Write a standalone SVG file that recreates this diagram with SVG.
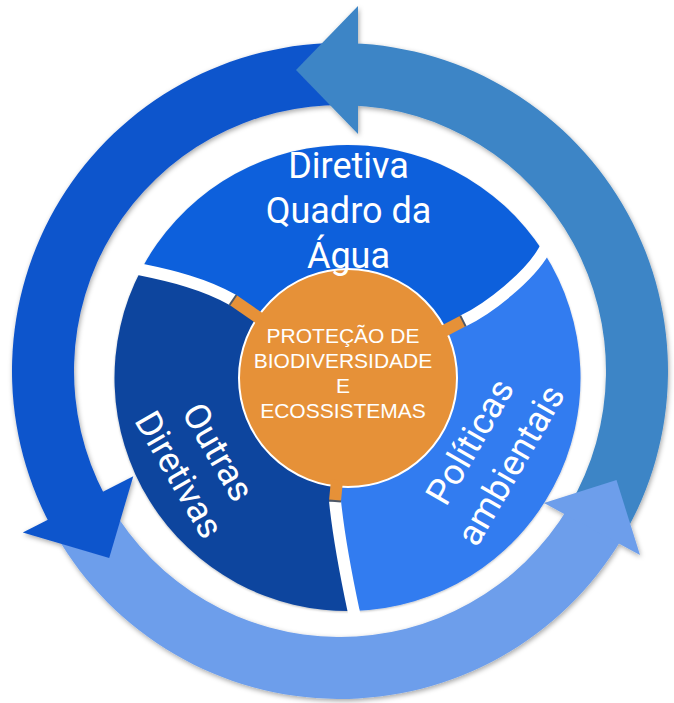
<svg xmlns="http://www.w3.org/2000/svg" width="674" height="703" viewBox="0 0 674 703">
<defs>
<style>
.lbl{font-family:Roboto,"Liberation Sans",sans-serif;font-size:36px;fill:#fff;text-anchor:middle}
.ctr{font-family:"Liberation Sans",Arial,sans-serif;font-size:21px;fill:#fff;text-anchor:middle}
.gap{fill:none;stroke:#fff;stroke-width:12}
.stub{stroke:#e69138;stroke-width:12}
.tick{stroke:#4f5866;stroke-width:2}
.dark{fill:#1155cc}
.light{fill:#6d9eeb}
.steel{fill:#3d85c6}
</style>
<filter id="sh" x="-10%" y="-10%" width="120%" height="120%">
<feDropShadow dx="1" dy="2" stdDeviation="2.5" flood-color="#000" flood-opacity="0.35"/>
</filter>
<filter id="sh2" x="-10%" y="-10%" width="120%" height="120%">
<feDropShadow dx="0" dy="1" stdDeviation="1.2" flood-color="#000" flood-opacity="0.25"/>
</filter>
</defs>
<rect width="674" height="703" fill="#fff"/>

<g id="connectors" filter="url(#sh)">
<path class="steel" d="M622.61,537.47 A328,328 0 0 0 351.45,43.2 L349.28,105.16 A266,266 0 0 1 569.19,506.01 Z"/>
<path class="light" d="M55.94,535 A328,328 0 0 0 621.15,539.93 L568.01,508 A266,266 0 0 1 109.64,504 Z"/>
<path class="dark" d="M345.72,43.05 A328,328 0 0 0 50.39,524.99 L105.14,495.88 A266,266 0 0 1 344.64,105.04 Z"/>
<polygon class="dark" points="22.8,532.6 109.2,557.9 133.3,476.3"/>
<polygon class="light" points="544,503 616.5,480 640,555"/>
<polygon class="steel" points="358,6 296,70 358,134"/>
</g>

<g id="node-diretiva-quadro" filter="url(#sh2)">
<path fill="#1061dc" d="M347.5,378 L233,300 C205,284 172,276 141.2,269.7 A233,233 0 0 1 543.4,251.8 C529,276.5 490,308 463,321 Z"/>
</g>
<g id="node-politicas" filter="url(#sh2)">
<path fill="#327bf0" d="M347.5,378 L463,321 C490,308 529,276.5 543.4,251.8 A233,233 0 0 1 353.6,610.9 C347,580 338,530 335,501 Z"/>
</g>
<g id="node-outras" filter="url(#sh2)">
<path fill="#0b449e" d="M347.5,378 L335,501 C338,530 347,580 353.6,610.9 A233,233 0 0 1 141.2,269.7 C172,276 205,284 233,300 Z"/>
</g>

<g id="gaps">
<path class="gap" d="M233,300 C205,284 172,276 141.2,269.7 L126,266.7"/>
<path class="gap" d="M463,321 C490,308 529,276.5 543.4,251.8 L551,238.8"/>
<path class="gap" d="M335,501 C338,530 347,580 353.6,610.9 L357,625"/>
</g>

<g id="node-center">
<circle cx="348" cy="378" r="109" fill="#e69138" stroke="#fff" stroke-width="2"/>
<line class="stub" x1="262" y1="320" x2="233" y2="300"/>
<line class="stub" x1="440" y1="333" x2="463" y2="321"/>
<line class="stub" x1="337" y1="480" x2="335" y2="501"/>
<line class="tick" x1="236.4" y1="295" x2="229.6" y2="305"/>
<line class="tick" x1="465.7" y1="326.4" x2="460.3" y2="315.6"/>
<line class="tick" x1="329" y1="500.4" x2="341" y2="501.6"/>
<text class="ctr"><tspan x="343" y="342.5">PROTEÇÃO DE</tspan><tspan x="343" y="367.5">BIODIVERSIDADE</tspan><tspan x="343" y="392.5">E</tspan><tspan x="343" y="417.5">ECOSSISTEMAS</tspan></text>
</g>

<g id="labels">
<text class="lbl"><tspan x="348.5" y="178">Diretiva</tspan><tspan x="348.5" y="223">Quadro da</tspan><tspan x="348.5" y="268">Água</tspan></text>
<text class="lbl" transform="translate(197.5,464) rotate(60)"><tspan x="0" y="-11.5">Outras</tspan><tspan x="0" y="33.5">Diretivas</tspan></text>
<text class="lbl" transform="translate(491.4,454) rotate(-60)"><tspan x="0" y="-12.5">Políticas</tspan><tspan x="0" y="34.5">ambientais</tspan></text>
</g>
</svg>
